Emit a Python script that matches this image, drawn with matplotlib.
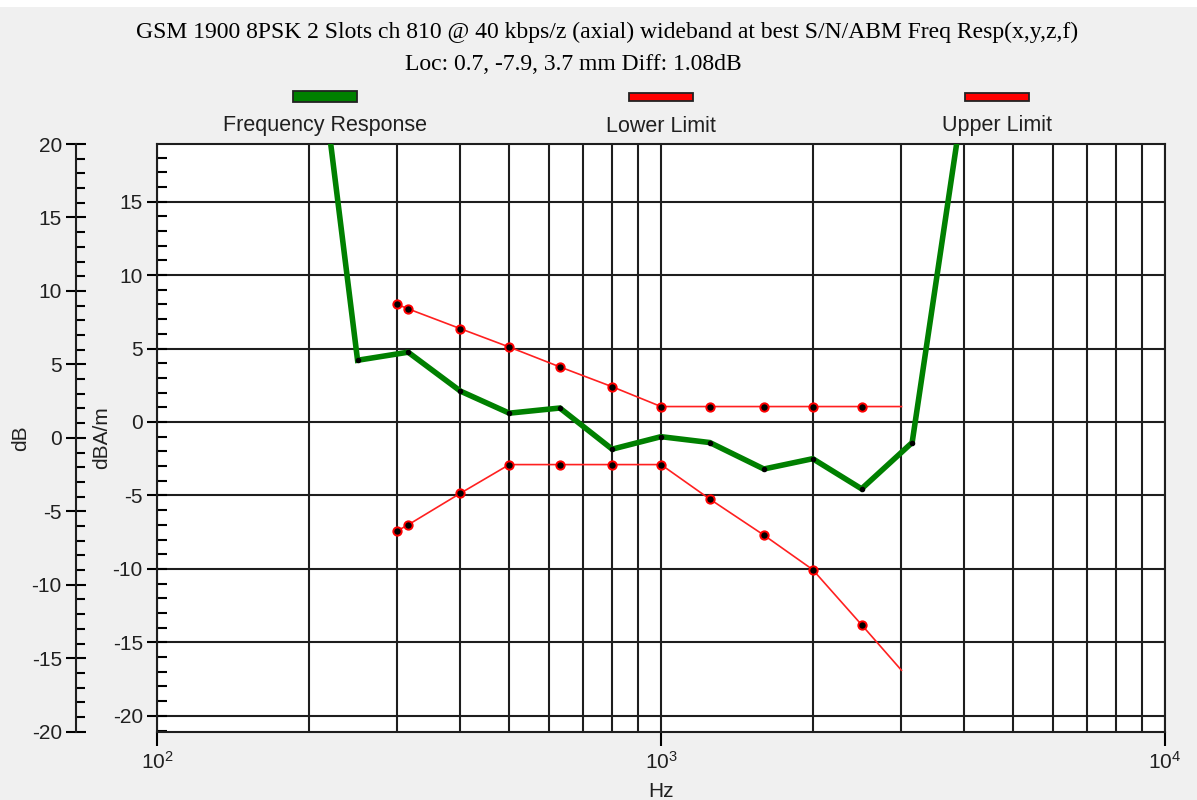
import matplotlib.pyplot as plt
import matplotlib.ticker as ticker
from matplotlib.patches import Rectangle

plt.rcParams['font.family'] = ['Liberation Sans', 'DejaVu Sans']
plt.rcParams['axes.unicode_minus'] = False

# frequency response (third-octave points), dBA/m
resp_hz = [200, 250, 315, 400, 500, 630, 800, 1000, 1250, 1600, 2000, 2500, 3150, 4000]
resp_db = [31.0, 4.2, 4.75, 2.1, 0.6, 0.95, -1.85, -1.0, -1.4, -3.2, -2.5, -4.55, -1.4, 22.5]

# limit masks
limit_hz = [300, 315, 400, 500, 630, 800, 1000, 1250, 1600, 2000, 2500, 3000]
lower_db = [-7.4, -7.0, -4.85, -2.9, -2.9, -2.9, -2.9, -5.25, -7.7, -10.05, -13.8, -16.9]
upper_db = [8.0, 7.7, 6.35, 5.1, 3.75, 2.4, 1.05, 1.05, 1.05, 1.05, 1.05, 1.05]

diff_db = 1.08
title1 = "GSM 1900 8PSK 2 Slots ch 810 @ 40 kbps/z (axial) wideband at best S/N/ABM Freq Resp(x,y,z,f)"
title2 = "Loc: 0.7, -7.9, 3.7 mm Diff: 1.08dB"
legend_labels = ["Frequency Response", "Lower Limit", "Upper Limit"]

W, H = 1197, 800
BG = '#f0f0f0'
GRID = '#1e1e1e'
TXT = '#202020'

fig = plt.figure(figsize=(W / 100, H / 100), dpi=100, facecolor=BG)
fig.add_artist(Rectangle((0, 1 - 7 / H), 1, 7 / H, transform=fig.transFigure,
                         facecolor='white', edgecolor='none'))

left, right, top, bottom = 157, 1165, 144, 731.7
ax = fig.add_axes([left / W, 1 - bottom / H, (right - left) / W, (bottom - top) / H])
ax.set_facecolor('white')
ax.set_xscale('log')
ax.set_xlim(100, 10000)
ax.set_ylim(-20 - diff_db, 20 - diff_db)

ax.yaxis.set_major_locator(ticker.MultipleLocator(5))
ax.yaxis.set_minor_locator(ticker.MultipleLocator(1))
ax.xaxis.set_minor_locator(ticker.LogLocator(base=10, subs=range(2, 10)))
ax.xaxis.set_minor_formatter(ticker.NullFormatter())

ax.grid(True, axis='x', which='both', color=GRID, lw=1.5)
ax.grid(True, axis='y', which='major', color=GRID, lw=1.5)
ax.set_axisbelow(True)

ax.tick_params(axis='y', which='major', direction='inout', length=14.4, width=1.5,
               labelsize=15, labelcolor=TXT, pad=3)
ax.tick_params(axis='y', which='minor', direction='in', length=7, width=1.5)
ax.tick_params(axis='x', which='major', direction='out', length=10, width=1.5,
               labelsize=15, labelcolor=TXT, pad=4)
ax.tick_params(axis='x', which='minor', length=0)
for s in ax.spines.values():
    s.set_linewidth(1.5)
    s.set_color(GRID)

# limits
ax.plot(limit_hz, lower_db, color='#ff2020', lw=1.2, marker='o', ms=6,
        mfc='black', mec='red', mew=1.4, markevery=slice(0, len(limit_hz) - 1), zorder=3)
ax.plot(limit_hz, upper_db, color='#ff2020', lw=1.2, marker='o', ms=6,
        mfc='black', mec='red', mew=1.4, markevery=slice(0, len(limit_hz) - 1), zorder=3)
# response
ax.plot(resp_hz, resp_db, color='#008000', lw=4, solid_joinstyle='miter', zorder=4)
ax.plot(resp_hz, resp_db, ls='none', marker='o', ms=3, color='black', zorder=5)

ax.set_xlabel('Hz', fontsize=15, color=TXT)
ax.xaxis.set_label_coords(0.5, -0.085)
ax.set_ylabel('dBA/m', fontsize=15, color=TXT)
ax.yaxis.set_label_coords((111 - left) / (right - left), 0.5)

# outer dB axis
ax2 = ax.twinx()
ax2.set_ylim(-20, 20)
ax2.yaxis.tick_left()
ax2.yaxis.set_label_position('left')
ax2.spines['left'].set_position(('outward', (left - 76) * 0.72))
for k in ('right', 'top', 'bottom'):
    ax2.spines[k].set_visible(False)
ax2.spines['left'].set_linewidth(1.5)
ax2.spines['left'].set_color(GRID)
ax2.yaxis.set_major_locator(ticker.MultipleLocator(5))
ax2.yaxis.set_minor_locator(ticker.MultipleLocator(1))
ax2.tick_params(axis='y', which='major', direction='inout', length=14.4, width=1.5,
                labelsize=15, labelcolor=TXT, pad=3)
ax2.tick_params(axis='y', which='minor', direction='in', length=6.5, width=1.5)
ax2.set_ylabel('dB', fontsize=15, color=TXT)
ax2.yaxis.set_label_coords((30 - left) / (right - left), 0.5)

# titles
fig.text(607 / W, 1 - 32 / H, title1, family='Liberation Serif', fontsize=17,
         ha='center', va='center', color='black')
fig.text(573 / W, 1 - 64 / H, title2, family='Liberation Serif', fontsize=17,
         ha='center', va='center', color='black')

# legend: swatch above label
swatches = [(293, 357, 91, 102, '#008000'), (629, 693, 93, 101, 'red'), (965, 1029, 93, 101, 'red')]
for (x0, x1, y0, y1, c), lab in zip(swatches, legend_labels):
    fig.add_artist(Rectangle((x0 / W, 1 - y1 / H), (x1 - x0) / W, (y1 - y0) / H,
                             transform=fig.transFigure, facecolor=c, edgecolor='#222222', lw=1.3))
    fig.text((x0 + x1) / 2 / W, 1 - 126 / H, lab, fontsize=15.5, ha='center', va='center', color=TXT)

fig.savefig('out.png', dpi=100, facecolor=BG)
